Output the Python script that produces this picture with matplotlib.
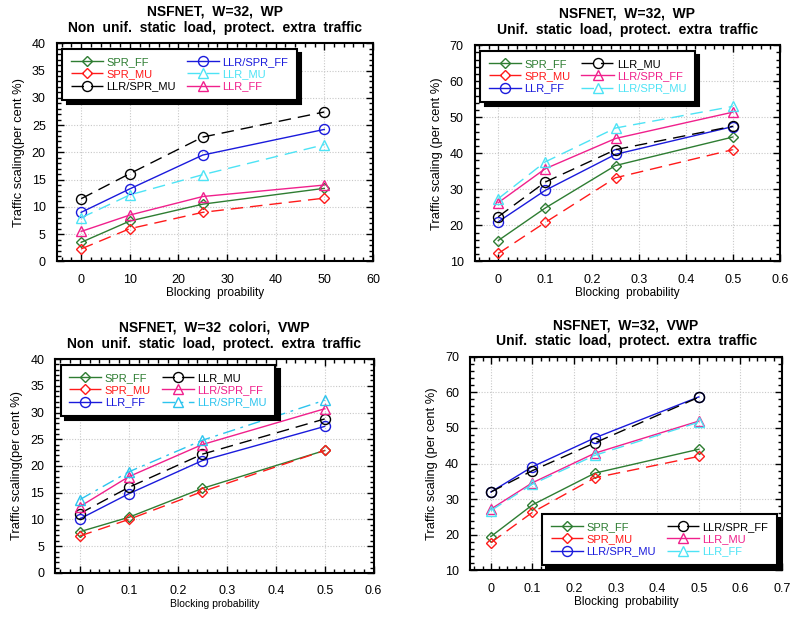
import matplotlib
matplotlib.use("Agg")
import matplotlib.pyplot as plt
from matplotlib.ticker import AutoMinorLocator, FixedLocator, FuncFormatter

plt.rcParams['font.family'] = ['Liberation Sans', 'DejaVu Sans']

# ---------------- data ----------------
x_p1 = [0, 10, 25, 50]
x_pb = [0, 0.1, 0.25, 0.5]

# Panel 1: NSFNET W=32 WP, non-uniform load
p1_labels = ["SPR_FF", "SPR_MU", "LLR/SPR_MU", "LLR/SPR_FF", "LLR_MU", "LLR_FF"]
p1_spr_ff = [3.5, 7.4, 10.5, 13.4]
p1_spr_mu = [2.3, 6.0, 9.0, 11.6]
p1_llrspr_mu = [11.5, 16.1, 22.8, 27.4]
p1_llrspr_ff = [9.0, 13.3, 19.5, 24.2]
p1_llr_mu = [8.0, 12.2, 15.9, 21.4]
p1_llr_ff = [5.5, 8.5, 11.9, 14.0]

# Panel 2: NSFNET W=32 WP, uniform load
p2_labels = ["SPR_FF", "SPR_MU", "LLR_FF", "LLR_MU", "LLR/SPR_FF", "LLR/SPR_MU"]
p2_spr_ff = [15.8, 24.8, 36.6, 44.5]
p2_spr_mu = [12.2, 20.8, 33.2, 41.0]
p2_llr_ff = [21.0, 29.7, 39.7, 47.4]
p2_llr_mu = [22.4, 32.0, 41.0, 47.5]
p2_llrspr_ff = [26.3, 35.7, 44.1, 51.4]
p2_llrspr_mu = [27.4, 37.6, 47.0, 53.0]

# Panel 3: NSFNET W=32 colori VWP, non-uniform load
p3_labels = ["SPR_FF", "SPR_MU", "LLR_FF", "LLR_MU", "LLR/SPR_FF", "LLR/SPR_MU"]
p3_spr_ff = [7.7, 10.4, 15.8, 22.9]
p3_spr_mu = [6.9, 10.0, 15.2, 22.9]
p3_llr_ff = [10.1, 14.8, 21.0, 27.4]
p3_llr_mu = [11.1, 16.0, 22.2, 28.8]
p3_llrspr_ff = [12.4, 18.0, 24.0, 30.7]
p3_llrspr_mu = [13.7, 18.9, 24.8, 32.3]

# Panel 4: NSFNET W=32 VWP, uniform load
p4_labels = ["SPR_FF", "SPR_MU", "LLR/SPR_MU", "LLR/SPR_FF", "LLR_MU", "LLR_FF"]
p4_spr_ff = [19.5, 28.4, 37.3, 44.0]
p4_spr_mu = [17.8, 26.3, 36.0, 42.0]
p4_llrspr_mu = [32.0, 39.1, 47.2, 58.7]
p4_llrspr_ff = [32.0, 38.0, 45.8, 58.6]
p4_llr_mu = [27.2, 34.6, 42.9, 51.9]
p4_llr_ff = [26.8, 34.2, 42.3, 51.6]

# ---------------- styles ----------------
GREEN = '#2e7d32'
RED = '#ff1a1a'
BLACK = '#000000'
BLUE = '#1a1adc'
CYAN = '#4de3f5'
CYAN2 = '#2cc4ee'
PINK = '#f0208c'
DASH = (0, (9, 5))
DASHDOT = (0, (9, 4, 2, 4))

def style(color, ls, marker):
    ms = {'D': 5.5, 'o': 7.2, '^': 6.8}[marker]
    return dict(color=color, linestyle=ls, marker=marker, markersize=ms,
                markerfacecolor='none', markeredgecolor=color,
                markeredgewidth=1.0, linewidth=1.0)

fig = plt.figure(figsize=(7.9, 6.18), dpi=100)

def setup(ax, xlim, ylim, xticks, yticks, title, xlabel, ylabel, xfmt, xlabel_size=8.5):
    ax.set_xlim(*xlim)
    ax.set_ylim(*ylim)
    ax.xaxis.set_major_locator(FixedLocator(xticks))
    ax.yaxis.set_major_locator(FixedLocator(yticks))
    ax.xaxis.set_major_formatter(FuncFormatter(xfmt))
    ax.xaxis.set_minor_locator(AutoMinorLocator(5))
    ax.yaxis.set_minor_locator(AutoMinorLocator(5))
    ax.tick_params(which='both', direction='in', top=True, right=True, labelsize=9, width=1.0)
    ax.tick_params(which='major', length=5)
    ax.tick_params(which='minor', length=3)
    ax.tick_params(axis='x', pad=9)
    ax.tick_params(axis='y', pad=8)
    for s in ax.spines.values():
        s.set_linewidth(1.5)
    ax.grid(True, which='major', color='#c8c8c8', linestyle=(0, (1, 1.5)), linewidth=0.8)
    ax.set_axisbelow(True)
    ax.set_title(title, fontsize=10, fontweight='bold', linespacing=1.2, pad=8)
    ax.set_xlabel(xlabel, fontsize=xlabel_size, labelpad=1)
    ax.set_ylabel(ylabel, fontsize=9.3, labelpad=5)

def legend(ax, loc, bbox):
    leg = ax.legend(loc=loc, bbox_to_anchor=bbox, ncol=2, fontsize=8, frameon=True,
                    fancybox=False, edgecolor='black', framealpha=1,
                    shadow={'ox': 3, 'oy': -3, 'color': 'black', 'alpha': 1},
                    handlelength=2.9, handletextpad=0.3, columnspacing=1.0,
                    labelspacing=0.2, borderpad=0.75, borderaxespad=0.5)
    leg.get_frame().set_linewidth(1.5)
    for t, h in zip(leg.get_texts(), leg.legend_handles):
        t.set_color(h.get_color())

fmt_int = lambda v, p: f"{v:g}"
fmt_dec = lambda v, p: "0" if abs(v) < 1e-9 else f"{v:.1f}"

# Panel 1
ax1 = fig.add_axes([0.072, 0.577, 0.400, 0.353])
ax1.plot(x_p1, p1_spr_ff, label=p1_labels[0], **style(GREEN, '-', 'D'))
ax1.plot(x_p1, p1_spr_mu, label=p1_labels[1], **style(RED, DASH, 'D'))
ax1.plot(x_p1, p1_llrspr_mu, label=p1_labels[2], **style(BLACK, DASH, 'o'))
ax1.plot(x_p1, p1_llrspr_ff, label=p1_labels[3], **style(BLUE, '-', 'o'))
ax1.plot(x_p1, p1_llr_mu, label=p1_labels[4], **style(CYAN, DASH, '^'))
ax1.plot(x_p1, p1_llr_ff, label=p1_labels[5], **style(PINK, '-', '^'))
setup(ax1, (-5, 60), (0, 40), [0, 10, 20, 30, 40, 50, 60], list(range(0, 41, 5)),
      "NSFNET,  W=32,  WP\nNon  unif.  static  load,  protect.  extra  traffic",
      "Blocking  proability", "Traffic scaling(per cent %)", fmt_int)
legend(ax1, 'upper left', (0.0, 1.0))

# Panel 2
ax2 = fig.add_axes([0.601, 0.577, 0.386, 0.350])
ax2.plot(x_pb, p2_spr_ff, label=p2_labels[0], **style(GREEN, '-', 'D'))
ax2.plot(x_pb, p2_spr_mu, label=p2_labels[1], **style(RED, DASH, 'D'))
ax2.plot(x_pb, p2_llr_ff, label=p2_labels[2], **style(BLUE, '-', 'o'))
ax2.plot(x_pb, p2_llr_mu, label=p2_labels[3], **style(BLACK, DASH, 'o'))
ax2.plot(x_pb, p2_llrspr_ff, label=p2_labels[4], **style(PINK, '-', '^'))
ax2.plot(x_pb, p2_llrspr_mu, label=p2_labels[5], **style(CYAN, DASH, '^'))
setup(ax2, (-0.05, 0.6), (10, 70), [0, 0.1, 0.2, 0.3, 0.4, 0.5, 0.6], list(range(10, 71, 10)),
      "NSFNET,  W=32,  WP\nUnif.  static  load,  protect.  extra  traffic",
      "Blocking  probability", "Traffic scaling (per cent %)", fmt_dec)
legend(ax2, 'upper left', (0.0, 1.0))

# Panel 3
ax3 = fig.add_axes([0.070, 0.073, 0.403, 0.346])
ax3.plot(x_pb, p3_spr_ff, label=p3_labels[0], **style(GREEN, '-', 'D'))
ax3.plot(x_pb, p3_spr_mu, label=p3_labels[1], **style(RED, DASH, 'D'))
ax3.plot(x_pb, p3_llr_ff, label=p3_labels[2], **style(BLUE, '-', 'o'))
ax3.plot(x_pb, p3_llr_mu, label=p3_labels[3], **style(BLACK, DASH, 'o'))
ax3.plot(x_pb, p3_llrspr_ff, label=p3_labels[4], **style(PINK, '-', '^'))
ax3.plot(x_pb, p3_llrspr_mu, label=p3_labels[5], **style(CYAN2, DASHDOT, '^'))
setup(ax3, (-0.05, 0.6), (0, 40), [0, 0.1, 0.2, 0.3, 0.4, 0.5, 0.6], list(range(0, 41, 5)),
      "NSFNET,  W=32  colori,  VWP\nNon  unif.  static  load,  protect.  extra  traffic",
      "Blocking probability", "Traffic scaling(per cent %)", fmt_dec, xlabel_size=7.5)
legend(ax3, 'upper left', (0.0, 1.0))

# Panel 4
ax4 = fig.add_axes([0.595, 0.077, 0.395, 0.346])
ax4.plot(x_pb, p4_spr_ff, label=p4_labels[0], **style(GREEN, '-', 'D'))
ax4.plot(x_pb, p4_spr_mu, label=p4_labels[1], **style(RED, DASH, 'D'))
ax4.plot(x_pb, p4_llrspr_mu, label=p4_labels[2], **style(BLUE, '-', 'o'))
ax4.plot(x_pb, p4_llrspr_ff, label=p4_labels[3], **style(BLACK, DASH, 'o'))
ax4.plot(x_pb, p4_llr_mu, label=p4_labels[4], **style(PINK, '-', '^'))
ax4.plot(x_pb, p4_llr_ff, label=p4_labels[5], **style(CYAN, DASH, '^'))
setup(ax4, (-0.05, 0.7), (10, 70), [0, 0.1, 0.2, 0.3, 0.4, 0.5, 0.6, 0.7], list(range(10, 71, 10)),
      "NSFNET,  W=32,  VWP\nUnif.  static  load,  protect.  extra  traffic",
      "Blocking  probability", "Traffic scaling (per cent %)", fmt_dec)
legend(ax4, 'lower right', (1.0, 0.0))

fig.savefig("out.png", dpi=100)
